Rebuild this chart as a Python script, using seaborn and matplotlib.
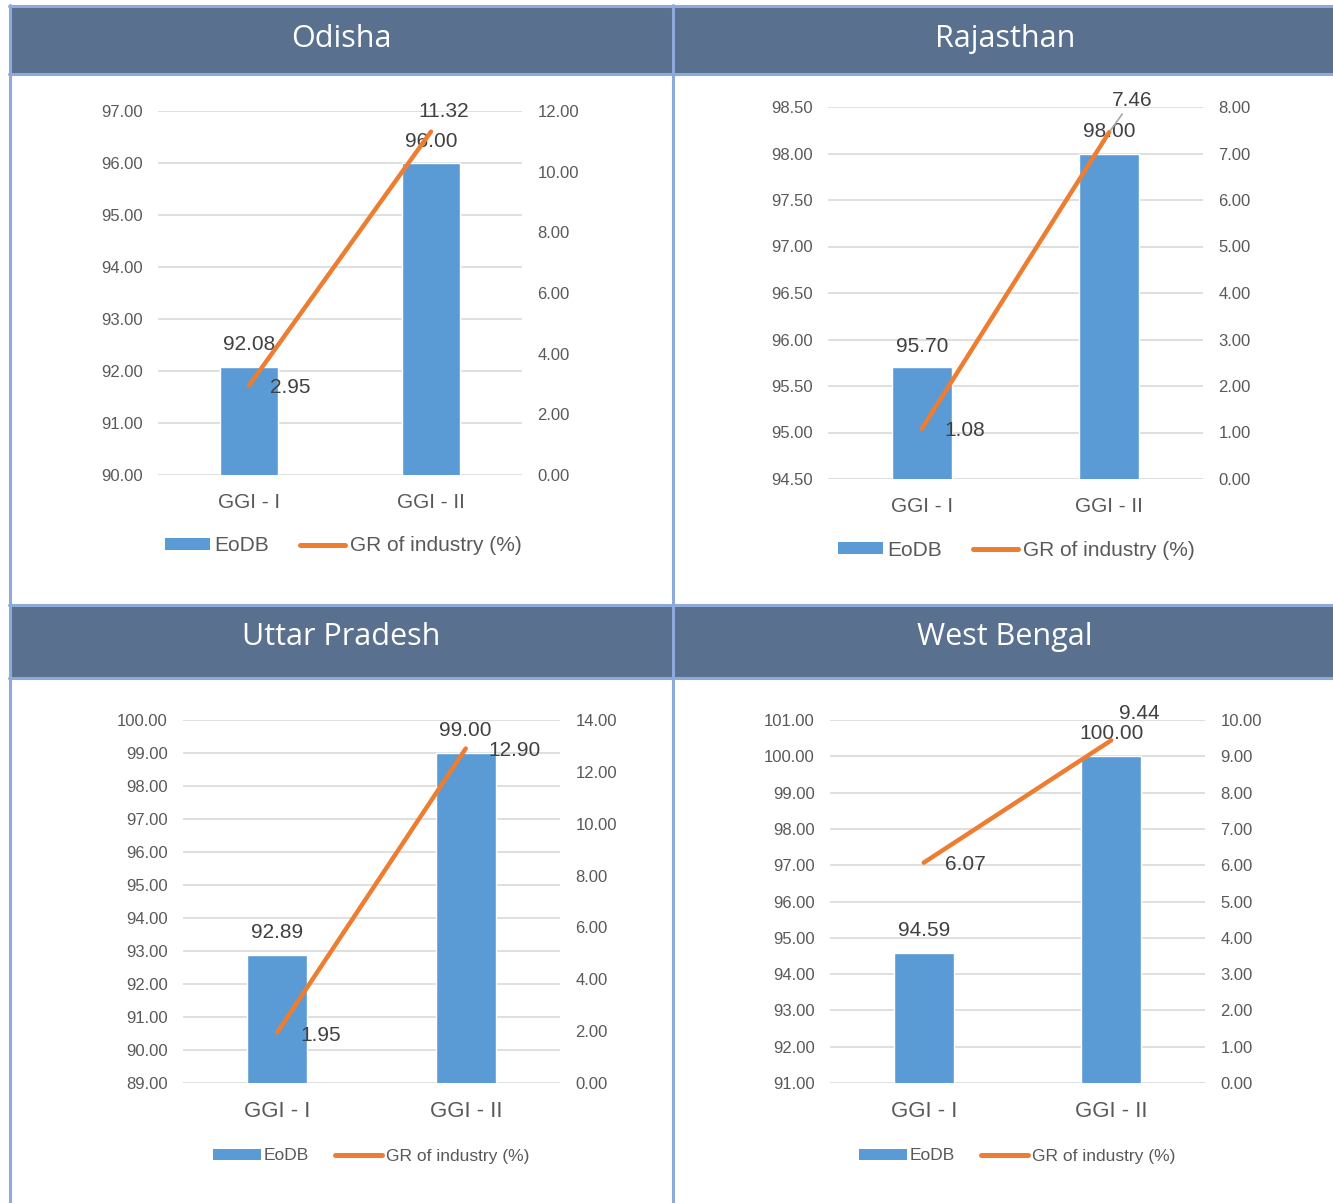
import numpy as np
import pandas as pd
import matplotlib
matplotlib.use("Agg")
import matplotlib.pyplot as plt
from matplotlib.patches import Rectangle, Patch
from matplotlib.lines import Line2D
from matplotlib.ticker import FormatStrFormatter, MultipleLocator
import seaborn as sns

# ---- data -------------------------------------------------------------
phases = ["GGI - I", "GGI - II"]
states = ["Odisha", "Rajasthan", "Uttar Pradesh", "West Bengal"]

eodb_odisha = [92.08, 96.00]
gr_odisha = [2.95, 11.32]

eodb_rajasthan = [95.70, 98.00]
gr_rajasthan = [1.08, 7.46]

eodb_up = [92.89, 99.00]
gr_up = [1.95, 12.90]

eodb_wb = [94.59, 100.00]
gr_wb = [6.07, 9.44]

series_names = ["EoDB", "GR of industry (%)"]

# ---- style ------------------------------------------------------------
sns.set_theme(style="white")
plt.rcParams["font.family"] = ["Liberation Sans", "DejaVu Sans"]

BLUE = "#5b9bd5"
ORANGE = "#ed7d31"
HEADER = "#59708f"
BORDER = "#8eaadb"
GRID = "#d9d9d9"
TICK = "#595959"
LABEL = "#404040"

W, H = 1333, 1203
fig = plt.figure(figsize=(W / 100, H / 100), dpi=100)
fig.patch.set_facecolor("white")


def fx(x):
    return x / W


def fy(y):
    return 1 - y / H


# ---- panel frame: header bands and border lines -----------------------
for y0, y1 in [(6, 74), (605, 678)]:
    fig.add_artist(Rectangle((fx(10), fy(y1)), fx(W - 10), (y1 - y0) / H,
                             transform=fig.transFigure, facecolor=HEADER,
                             edgecolor="none", zorder=0))
for y in [6, 74, 605, 678]:
    fig.add_artist(Line2D([fx(9), 1], [fy(y), fy(y)], transform=fig.transFigure,
                          color=BORDER, lw=2.2, zorder=1))
for x in [10, 673]:
    fig.add_artist(Line2D([fx(x), fx(x)], [fy(5), 0], transform=fig.transFigure,
                          color=BORDER, lw=2.2, zorder=1))

titles = [(states[0], 341, 39), (states[1], 1005, 39),
          (states[2], 341, 637), (states[3], 1005, 637)]
for t, x, y in titles:
    fig.text(fx(x), fy(y), t, ha="center", va="center", color="white",
             fontsize=22, family=["Open Sans", "DejaVu Sans"])

# ---- chart panels ------------------------------------------------------
panels = [
    dict(eodb=eodb_odisha, gr=gr_odisha, box=(158, 111, 522, 475),
         left=(90, 97, 1), right=(0, 12, 2),
         bar_off=[(0, 22), (0, 21)], line_off=[(41, -2), (13, 20)],
         leg=(343, 546), leg_fs=15, hl=2.2, leader=False, cat_fs=15),
    dict(eodb=eodb_rajasthan, gr=gr_rajasthan, box=(828, 107, 1203, 479),
         left=(94.5, 98.5, 0.5), right=(0, 8, 1),
         bar_off=[(0, 21), (0, 22)], line_off=[(23, 32), (23, 32)],
         leg=(1016, 550), leg_fs=15, hl=2.2, leader=True, cat_fs=15),
    dict(eodb=eodb_up, gr=gr_up, box=(183, 720, 560, 1083),
         left=(89, 100, 1), right=(0, 14, 2),
         bar_off=[(0, 22), (0, 22)], line_off=[(43, -3), (49, -2)],
         leg=(371, 1156), leg_fs=12.5, hl=2.75, leader=False, cat_fs=16),
    dict(eodb=eodb_wb, gr=gr_wb, box=(830, 720, 1205, 1083),
         left=(91, 101, 1), right=(0, 10, 1),
         bar_off=[(0, 22), (0, 23)], line_off=[(42, -2), (28, 27)],
         leg=(1017, 1156), leg_fs=12.5, hl=2.75, leader=False, cat_fs=16),
]
# first Rajasthan line label sits beside its point, not above it
panels[1]["line_off"][0] = (43, -2)

pos = np.arange(len(phases))

for p in panels:
    x0, y0, x1, y1 = p["box"]
    ax = fig.add_axes([fx(x0), fy(y1), (x1 - x0) / W, (y1 - y0) / H])
    df = pd.DataFrame({"phase": phases, "eodb": p["eodb"], "gr": p["gr"]})

    sns.barplot(data=df, x="phase", y="eodb", ax=ax, color=BLUE,
                saturation=1, width=0.32, zorder=2)
    lo, hi, st = p["left"]
    ax.set_ylim(lo, hi)
    ax.yaxis.set_major_locator(MultipleLocator(st))
    ax.yaxis.set_major_formatter(FormatStrFormatter("%.2f"))
    ax.yaxis.grid(True, color=GRID, lw=1.2, zorder=0)
    ax.set_axisbelow(True)

    ax2 = ax.twinx()
    sns.lineplot(x=pos, y=df["gr"].to_numpy(), ax=ax2, color=ORANGE, lw=3.2,
                 solid_capstyle="round", zorder=3)
    rlo, rhi, rst = p["right"]
    ax2.set_ylim(rlo, rhi)
    ax2.yaxis.set_major_locator(MultipleLocator(rst))
    ax2.yaxis.set_major_formatter(FormatStrFormatter("%.2f"))
    ax.set_xlim(-0.5, 1.5)

    for a in (ax, ax2):
        for s in a.spines.values():
            s.set_visible(False)
        a.set_xlabel("")
        a.set_ylabel("")
    ax.tick_params(axis="y", length=0, pad=11, labelsize=12, labelcolor=TICK)
    ax2.tick_params(axis="y", length=0, pad=11, labelsize=12, labelcolor=TICK)
    ax.tick_params(axis="x", length=0, pad=13, labelsize=p["cat_fs"],
                   labelcolor=TICK)

    # value labels on the bars
    for i, v in enumerate(p["eodb"]):
        ax.annotate(f"{v:.2f}", (pos[i], v), xytext=p["bar_off"][i],
                    textcoords="offset pixels", ha="center", va="center",
                    fontsize=15, color=LABEL, zorder=5)
    # value labels on the line
    for i, v in enumerate(p["gr"]):
        kw = {}
        if p["leader"] and i == 1:
            kw["arrowprops"] = dict(arrowstyle="-", color="#a6a6a6", lw=1.2,
                                    shrinkA=1, shrinkB=1)
        ax2.annotate(f"{v:.2f}", (pos[i], v), xytext=p["line_off"][i],
                     textcoords="offset pixels", ha="center", va="center",
                     fontsize=15, color=LABEL, zorder=5, **kw)

    handles = [Patch(facecolor=BLUE, edgecolor="none"),
               Line2D([], [], color=ORANGE, lw=3.6, solid_capstyle="round")]
    lx, ly = p["leg"]
    ax.legend(handles, series_names, loc="center", ncol=2,
              bbox_to_anchor=(fx(lx), fy(ly)), bbox_transform=fig.transFigure,
              frameon=False, fontsize=p["leg_fs"], handlelength=p["hl"],
              handleheight=0.55, handletextpad=0.2, columnspacing=1.45,
              labelcolor=TICK)

fig.savefig("out.png", dpi=100)
